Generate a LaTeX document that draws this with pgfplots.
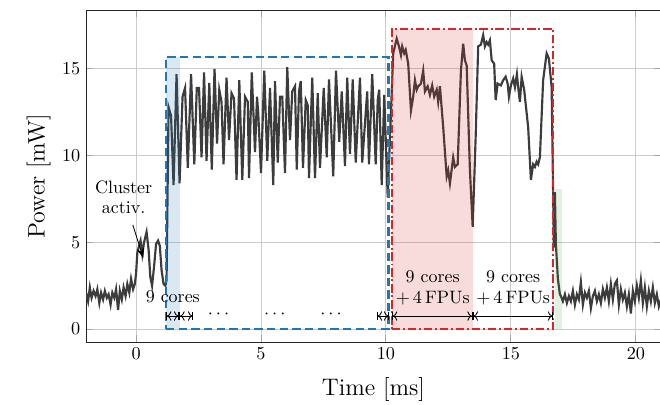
\documentclass[border=0pt]{standalone}
\usepackage{pgfplots}
\pgfplotsset{compat=1.18}
\usetikzlibrary{arrows.meta,calc}
\definecolor{tblue}{HTML}{1F77B4}
\definecolor{tred}{HTML}{D62728}
\definecolor{tgreen}{HTML}{2CA02C}
\definecolor{trace}{HTML}{3C3C3C}
\tikzset{span/.style={{Bar[width=5pt] To[]}-{To[] Bar[width=5pt]}, line width=0.5pt}}
\newcommand\annfont{\fontsize{10.8}{12.6}\selectfont}

\begin{document}
\begin{tikzpicture}
\begin{axis}[
    scale only axis,
    width=345.8pt, height=200pt,
    xmin=-2, xmax=21,
    ymin=-0.77, ymax=18.4,
    xtick={0,5,10,15,20},
    ytick={0,5,10,15},
    grid=major,
    major grid style={gray!40, line width=0.6pt},
    tick style={gray!70, line width=0.6pt},
    axis line style={black!85},
    tick label style={font=\fontsize{11}{13}\selectfont},
    xlabel={Time [ms]},
    ylabel={Power [mW]},
    xlabel style={font=\Large, yshift=-4pt},
    ylabel style={font=\Large},
]

% measured power trace
\addplot[color=trace, line width=1.3pt] coordinates {
(-2.00,2.1) (-1.92,1.6) (-1.85,2.4) (-1.78,1.8) (-1.70,2.2) (-1.62,1.9) (-1.55,2.3)
(-1.47,1.5) (-1.40,2.1) (-1.32,1.7) (-1.25,2.2) (-1.17,1.8) (-1.10,2.0) (-1.02,1.4)
(-0.95,2.1) (-0.87,1.8) (-0.80,2.3) (-0.72,1.1) (-0.65,2.2) (-0.57,1.7) (-0.50,2.4)
(-0.42,1.9) (-0.35,2.6) (-0.27,2.1) (-0.20,2.9) (-0.12,2.3) (-0.05,2.6)
(0.00,3.2) (0.05,4.4) (0.12,4.8) (0.18,5.1) (0.25,4.3) (0.32,5.0) (0.42,5.6)
(0.50,4.6) (0.57,3.0) (0.64,2.5) (0.72,3.6) (0.80,4.9) (0.88,5.1) (0.95,4.8)
(1.02,3.4) (1.10,2.6) (1.17,2.5) (1.22,2.8)
(1.30,12.8) (1.40,12.3) (1.50,8.3) (1.62,14.7) (1.74,8.4) (1.86,13.4) (1.96,13.9)
(2.07,9.3) (2.20,14.7) (2.33,9.5) (2.43,13.9) (2.52,13.9) (2.62,9.9) (2.72,14.8)
(2.82,9.7) (2.93,14.2) (3.03,9.2) (3.14,15.0) (3.24,10.7) (3.33,13.8) (3.42,13.1)
(3.50,9.5) (3.62,14.5) (3.72,10.9) (3.82,13.6) (3.92,13.3) (4.02,8.6)
(4.13,14.35) (4.25,8.6) (4.36,13.4) (4.47,13.1) (4.52,8.7) (4.63,14.8) (4.76,10.2)
(4.84,13.4) (4.89,12.4) (5.00,9.0) (5.13,14.9) (5.25,9.7) (5.36,13.9) (5.49,8.3)
(5.56,14.3) (5.67,9.6) (5.76,13.4) (5.85,13.4) (5.96,9.0) (6.05,15.1) (6.16,10.9)
(6.25,13.7) (6.36,14.0) (6.43,9.2) (6.52,13.7) (6.59,14.3) (6.68,9.3) (6.79,13.2)
(6.87,12.9) (6.92,8.7) (7.05,14.5) (7.16,8.7) (7.27,13.6) (7.36,9.3) (7.51,13.9)
(7.63,9.9) (7.72,14.4) (7.89,8.8) (8.00,14.9) (8.13,10.8) (8.23,13.7) (8.36,9.4)
(8.45,14.5) (8.56,10.1) (8.67,14.4) (8.79,9.6) (8.96,14.5) (9.05,9.6) (9.25,13.7)
(9.32,9.5) (9.45,14.7) (9.59,9.5) (9.67,13.2) (9.73,13.8) (9.83,8.3) (9.93,13.5)
(10.07,7.6)
(10.29,15.9) (10.43,16.75) (10.52,16.3) (10.60,15.8) (10.65,16.3) (10.73,15.9)
(10.79,16.1) (10.84,15.7) (10.89,15.3) (11.00,12.6) (11.09,13.4) (11.16,14.35)
(11.23,13.8) (11.29,14.0) (11.40,14.15) (11.49,14.9) (11.56,13.7) (11.67,14.0)
(11.76,13.5) (11.85,14.05) (11.93,13.4) (12.03,13.8) (12.09,13.1) (12.16,14.0)
(12.29,11.65) (12.43,8.8) (12.49,9.15) (12.56,8.4) (12.69,9.9) (12.76,9.35)
(12.87,9.5) (13.00,14.9) (13.09,16.45) (13.16,15.5) (13.23,15.2) (13.36,9.15)
(13.47,5.9) (13.59,11.1) (13.69,16.3) (13.80,16.4) (13.89,16.95) (13.96,16.3)
(14.03,16.55) (14.09,16.4) (14.16,16.65) (14.23,15.5) (14.33,15.3) (14.39,13.2)
(14.47,14.15) (14.60,14.05) (14.69,14.35) (14.79,14.55) (14.87,14.15) (14.92,13.4)
(15.00,14.05) (15.09,14.45) (15.16,13.95) (15.24,14.7) (15.29,13.95) (15.36,13.1)
(15.43,14.55) (15.53,13.8) (15.69,11.65) (15.80,8.6) (15.89,9.5) (15.96,9.35)
(16.03,9.65) (16.09,9.5) (16.16,9.9) (16.29,14.35) (16.43,15.9) (16.52,15.6)
(16.63,13.95) (16.69,7.8) (16.72,4.7) (16.76,7.9) (16.80,4.9) (16.88,2.9)
(16.96,2.0) (17.00,1.9) (17.08,1.6) (17.16,2.0) (17.24,1.5) (17.32,1.9) (17.40,1.6)
(17.48,2.2) (17.56,1.4) (17.64,2.0) (17.72,1.7) (17.80,2.7) (17.88,1.4) (17.96,2.1)
(18.04,1.8) (18.12,2.2) (18.20,1.2) (18.28,1.9) (18.36,2.2) (18.44,1.6) (18.52,2.0)
(18.60,1.5) (18.68,2.3) (18.76,1.8) (18.84,2.4) (18.92,1.6) (19.00,2.6) (19.08,1.7)
(19.16,2.6) (19.24,2.8) (19.32,1.4) (19.40,2.3) (19.48,1.7) (19.56,2.1) (19.64,1.3)
(19.72,2.0) (19.80,0.9) (19.88,2.2) (19.96,1.6) (20.04,2.5) (20.12,1.8) (20.20,2.8)
(20.28,1.5) (20.36,2.4) (20.44,1.3) (20.52,2.2) (20.60,1.6) (20.68,2.4) (20.76,1.5)
(20.84,2.0) (20.92,1.3) (21.00,1.7)
};

% shaded phases
\addplot[draw=none, fill=tblue, fill opacity=0.17] coordinates {
(1.2,0) (1.76,0) (1.76,15.7) (1.2,15.7)} -- cycle;
\addplot[draw=none, fill=tred, fill opacity=0.17] coordinates {
(10.24,0) (13.47,0) (13.47,17.3) (10.24,17.3)} -- cycle;
\addplot[draw=none, fill=tgreen, fill opacity=0.15] coordinates {
(16.78,0) (17.05,0) (17.05,8.05) (16.78,8.05)} -- cycle;

% phase frames
\addplot[color=tblue, line width=1.4pt, dash pattern=on 5pt off 2.6pt] coordinates {
(1.2,0) (10.1,0) (10.1,15.7) (1.2,15.7)} -- cycle;
\addplot[color=tred, line width=1.4pt, dash pattern=on 5pt off 1.7pt on 1.2pt off 1.7pt] coordinates {
(10.24,0) (16.69,0) (16.69,17.3) (10.24,17.3)} -- cycle;

% annotations
\draw[span] (axis cs:1.2,0.75) -- (axis cs:1.73,0.75);
\draw[span] (axis cs:1.73,0.75) -- (axis cs:2.29,0.75);
\draw[span] (axis cs:9.63,0.75) -- (axis cs:10.13,0.75);
\draw[span] (axis cs:10.24,0.75) -- (axis cs:13.47,0.75);
\draw[span] (axis cs:13.47,0.75) -- (axis cs:16.69,0.75);
\node[font=\annfont] at (axis cs:3.3,0.82) {$\cdots$};
\node[font=\annfont] at (axis cs:5.55,0.82) {$\cdots$};
\node[font=\annfont] at (axis cs:7.8,0.82) {$\cdots$};
\node[font=\annfont] at (axis cs:1.47,1.85) {9 cores};
\node[font=\annfont, align=center] at (axis cs:11.87,2.4) {9 cores\\$+\,4$\,FPUs};
\node[font=\annfont, align=center] at (axis cs:15.09,2.4) {9 cores\\$+\,4$\,FPUs};
\node[font=\annfont, align=center] at (axis cs:-0.5,7.6) {Cluster\\activ.};
\draw[-{Stealth[length=6pt]}, line width=0.5pt] (axis cs:-0.13,6.0) -- (axis cs:0.29,4.1);
\end{axis}
\pgfresetboundingbox
\path[use as bounding box] ($(current axis.south west)+(-51.8pt,-37.3pt)$)
    rectangle ($(current axis.north east)+(-0.5pt,6pt)$);
\end{tikzpicture}
\end{document}
